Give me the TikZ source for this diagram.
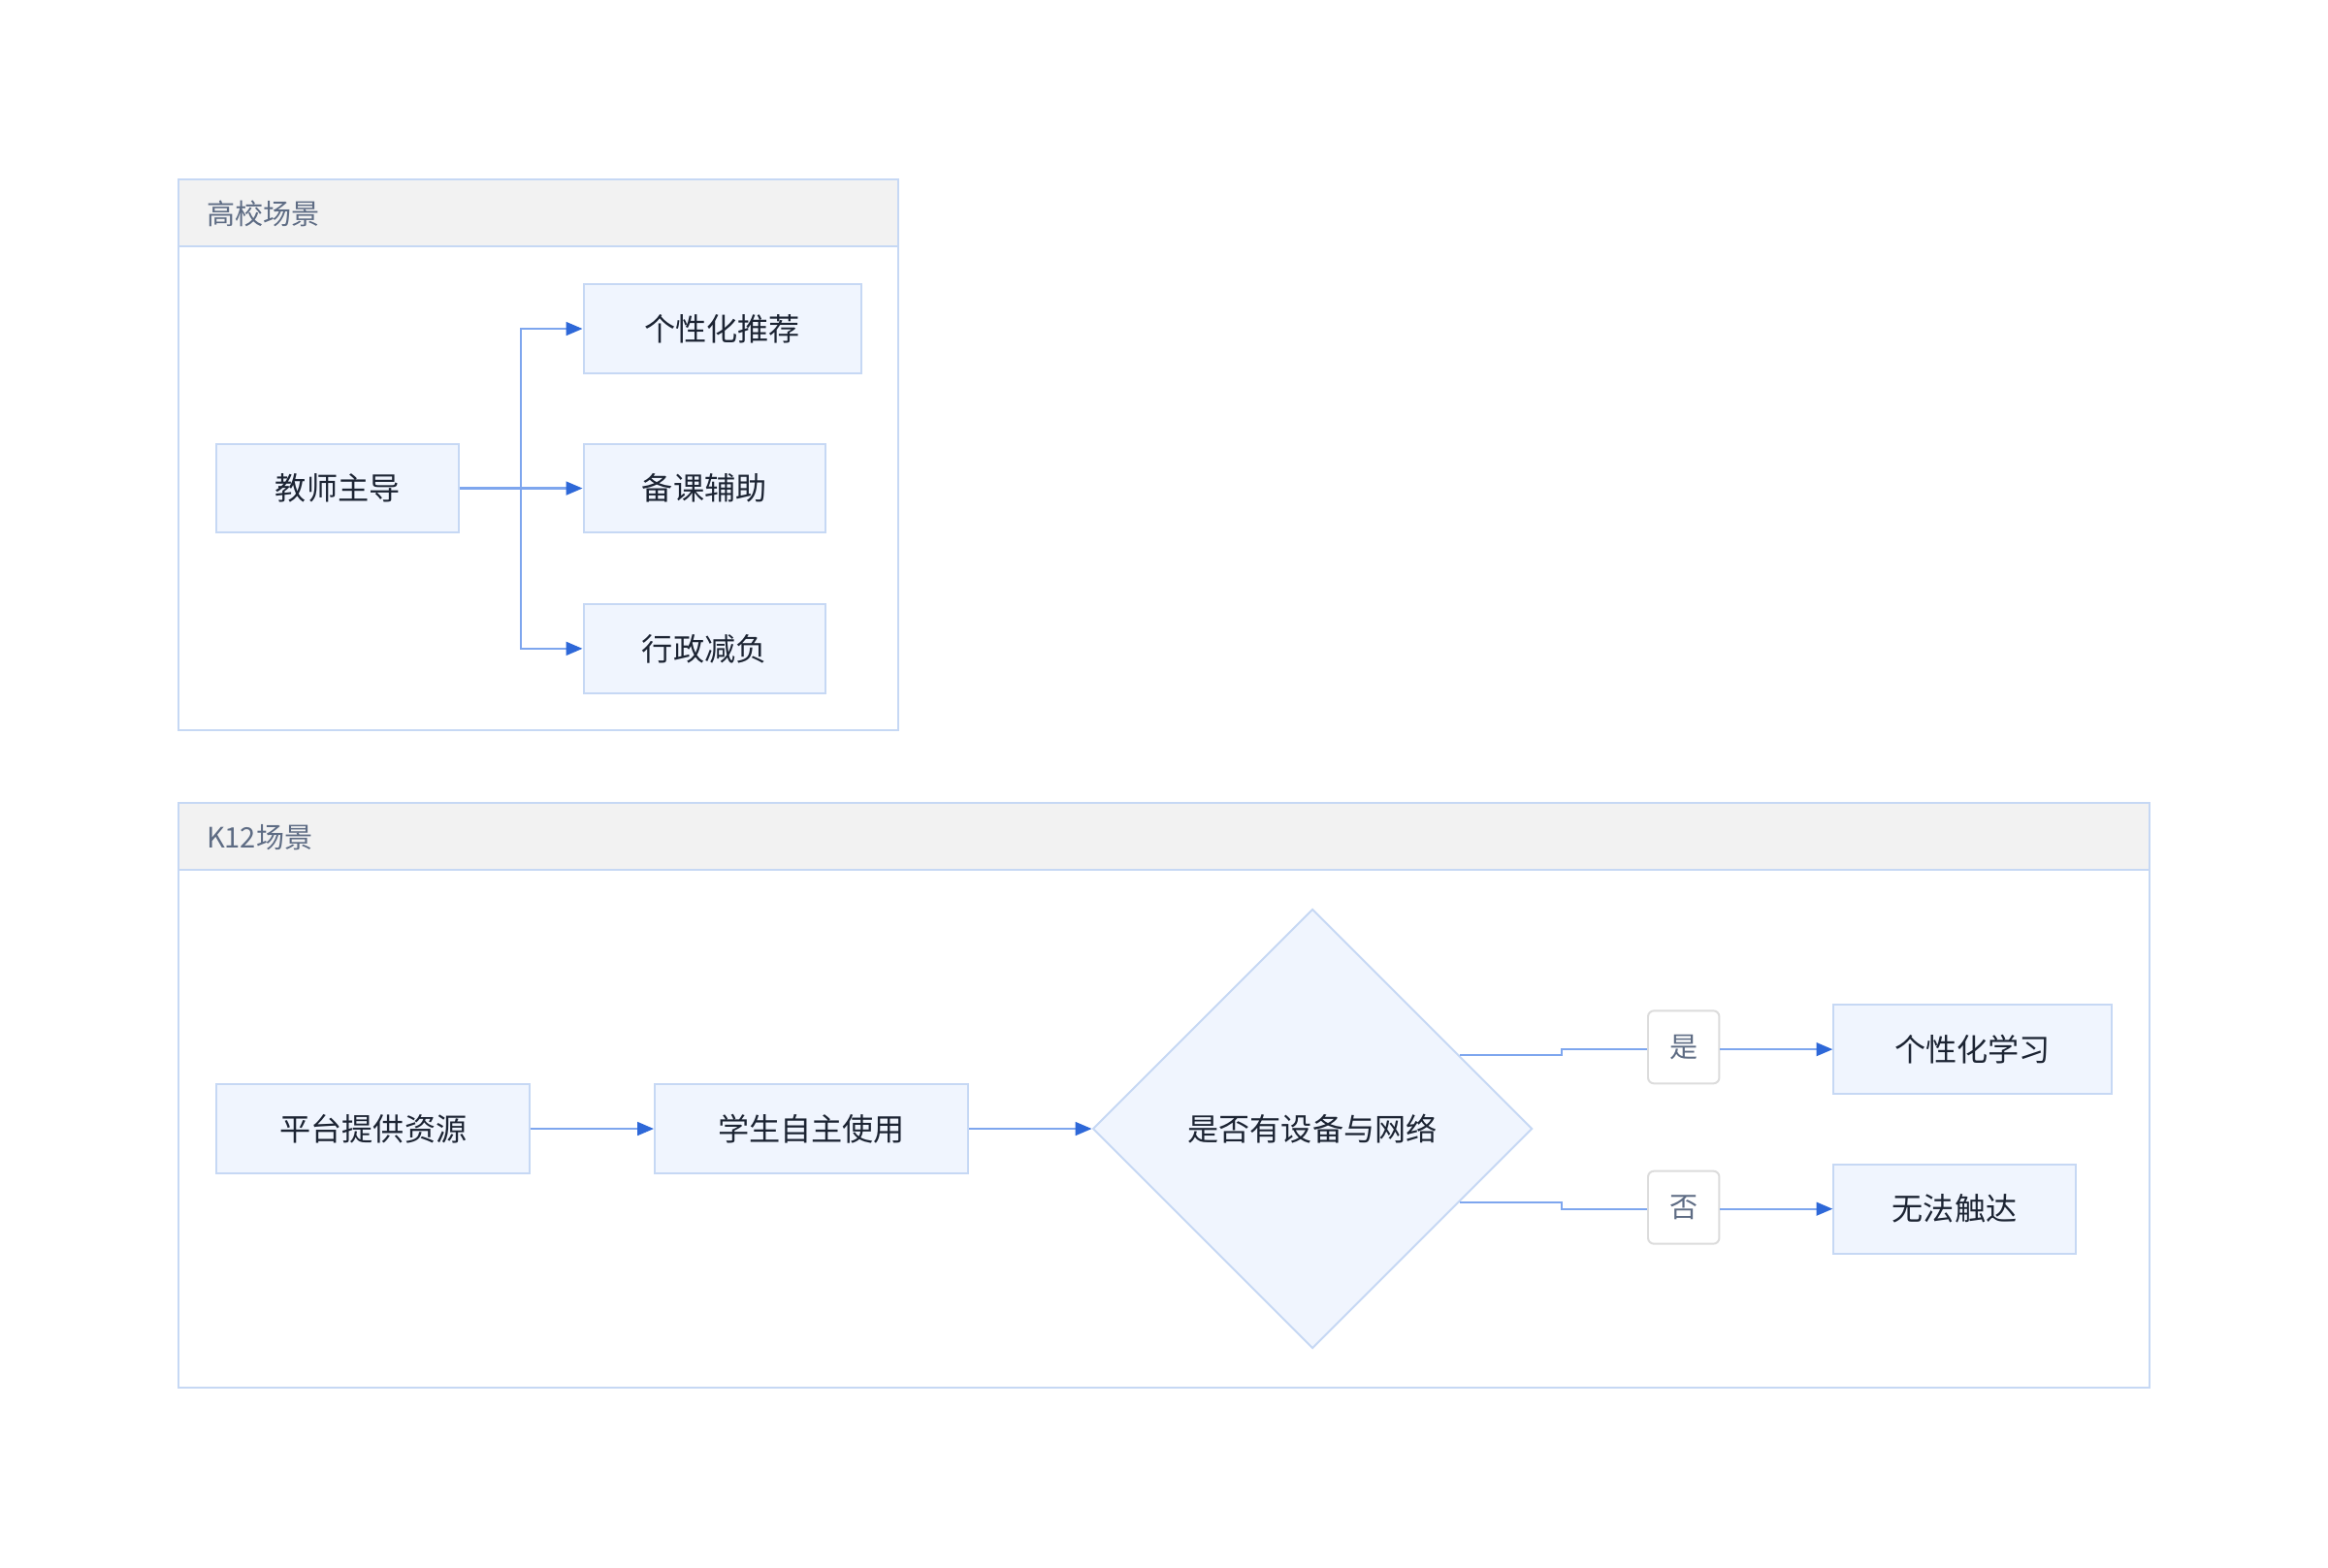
\documentclass[tikz,border=0pt]{standalone}
\usepackage{fontspec}
\setmainfont{Noto Sans CJK SC}
\usetikzlibrary{arrows.meta,shapes.geometric,calc}
\definecolor{boxfill}{HTML}{F0F5FE}
\definecolor{boxdraw}{HTML}{C6D8F4}
\definecolor{hdrfill}{HTML}{F2F2F2}
\definecolor{linecol}{HTML}{7EA6EE}
\definecolor{tipcol}{HTML}{2E68D8}
\definecolor{titlecol}{HTML}{5E6C84}
\definecolor{txtcol}{HTML}{1C2433}
\definecolor{lbldraw}{HTML}{DCDCDC}
\tikzset{
  x=1pt,y=1pt,
  frame/.style={draw=boxdraw,line width=1.3pt},
  hdr/.style={fill=hdrfill,draw=boxdraw,line width=1.3pt},
  ttl/.style={anchor=west,text=titlecol,font=\fontsize{19}{21}\selectfont,inner sep=0pt},
  proc/.style={rectangle,draw=boxdraw,fill=boxfill,line width=1.3pt,text=txtcol,
    font=\fontsize{21}{25}\selectfont,inner sep=0pt,minimum height=60pt},
  dec/.style={diamond,draw=boxdraw,fill=boxfill,line width=1.3pt,text=txtcol,
    font=\fontsize{21}{25}\selectfont,inner sep=0pt,minimum width=296pt,minimum height=296pt,aspect=1},
  lbl/.style={rectangle,rounded corners=4pt,draw=lbldraw,fill=white,line width=1.3pt,
    text=titlecol,font=\fontsize{19}{21}\selectfont,inner sep=0pt,minimum width=48pt,minimum height=49pt},
  conn/.style={draw=linecol,line width=1.4pt},
  arr/.style={conn,-{Triangle[length=11pt,width=9pt,color=tipcol]}},
}
\begin{document}
\begin{tikzpicture}
\useasboundingbox[fill=white] (0,0) rectangle (1568,-1056);
% ---- cluster 1
\draw[frame,fill=white] (120,-121) rectangle (605,-492);
\draw[hdr] (120,-121) rectangle (605,-166);
\node[ttl] (t1) at (139,-144) {高校场景};
\node[proc,minimum width=163pt] (teach) at (227.5,-329) {教师主导};
\node[proc,minimum width=187pt] (rec) at (486.5,-221.5) {个性化推荐};
\node[proc,minimum width=163pt] (prep) at (474.5,-329) {备课辅助};
\node[proc,minimum width=163pt] (admin) at (474.5,-437) {行政减负};
\coordinate (br) at (351,-329);
\draw[conn] (teach.east) -- (br);
\draw[arr] (br) |- (rec.west);
\draw[arr] (br) -- (prep.west);
\draw[arr] (br) |- (admin.west);
% ---- cluster 2
\draw[frame,fill=white] (120,-541) rectangle (1448,-935);
\draw[hdr] (120,-541) rectangle (1448,-586);
\node[ttl] (t2) at (139,-564) {K12场景};
\node[proc,minimum width=211pt] (plat) at (251.5,-760.5) {平台提供资源};
\node[proc,minimum width=211pt] (stu) at (546.5,-760.5) {学生自主使用};
\node[dec] (dq) at (884,-760.5) {是否有设备与网络};
\node[lbl] (yes) at (1134,-705.5) {是};
\node[lbl] (no) at (1134,-813.5) {否};
\node[proc,minimum width=187pt] (pl) at (1328.5,-707) {个性化学习};
\node[proc,minimum width=163pt] (na) at (1316.5,-814.5) {无法触达};
\draw[arr] (plat.east) -- (stu.west);
\draw[arr] (stu.east) -- (dq.west);
\coordinate (ys) at ($(dq.east)+(-49.5,49.5)$);
\coordinate (ns) at ($(dq.east)+(-49.5,-49.5)$);
\draw[conn] (ys) -- (1052,-711) -- (1052,-707) -- (yes.west |- 0,-707);
\draw[arr] (yes.east |- 0,-707) -- (pl.west |- 0,-707);
\draw[conn] (ns) -- (1052,-810) -- (1052,-814.5) -- (no.west |- 0,-814.5);
\draw[arr] (no.east |- 0,-814.5) -- (na.west);
\end{tikzpicture}
\end{document}
